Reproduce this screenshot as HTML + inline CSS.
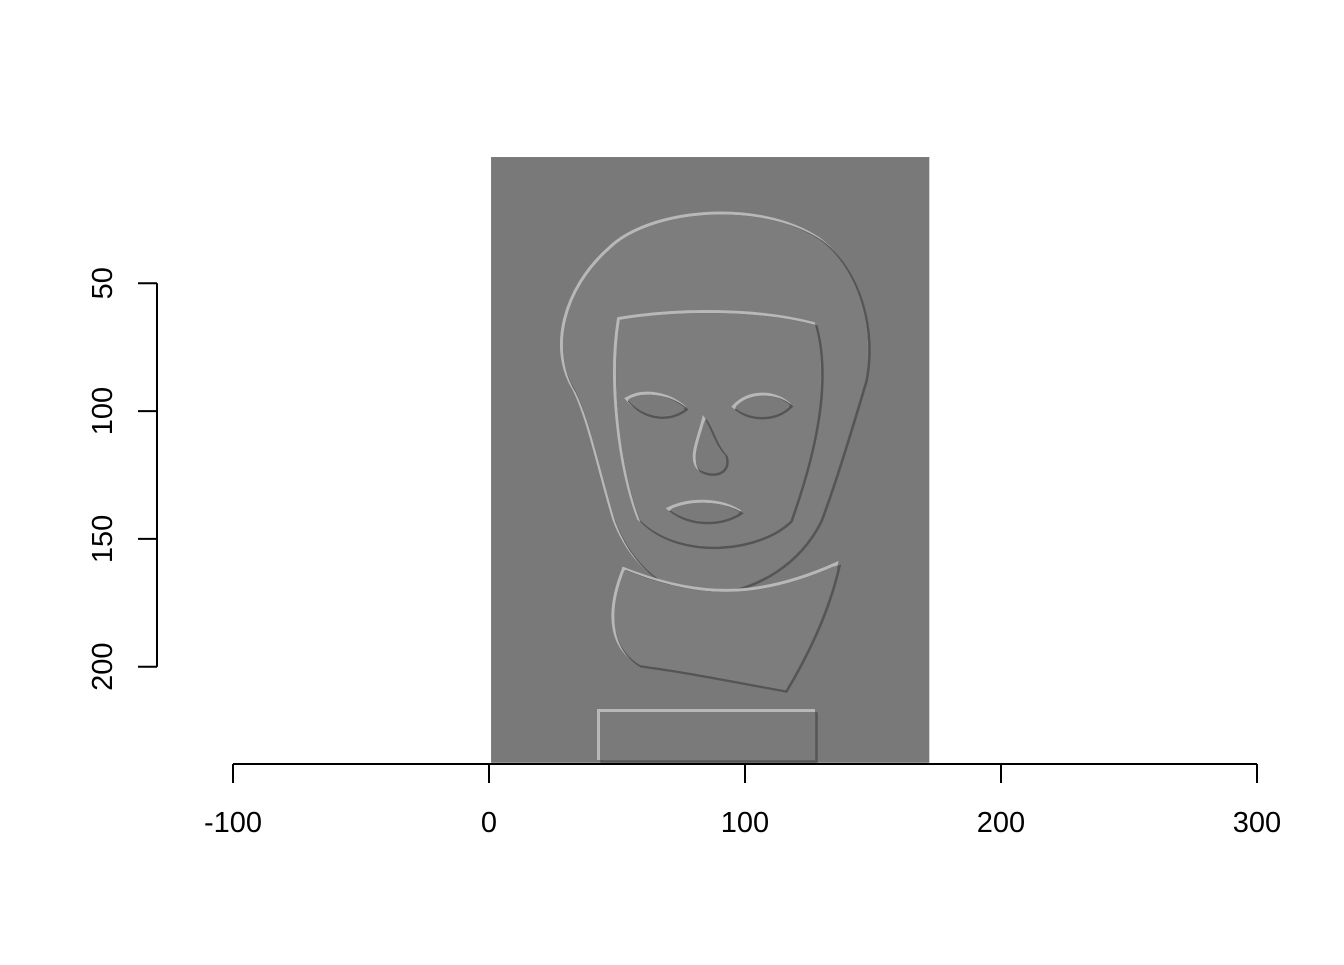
<!DOCTYPE html>
<html><head><meta charset="utf-8"><style>
body{margin:0;background:#fff}
svg text{font-family:"Liberation Sans",sans-serif;font-size:29px;fill:#000}
</style></head><body>
<svg id="chart" width="1344" height="960" viewBox="0 0 1344 960">
<g id="img"></g>
<g id="axes"></g>
</svg>
<script>
const xTicks=[-100,0,100,200,300];
const yTicks=[50,100,150,200];
const imgXRange=[0.8,172];
const imgYRange=[0.6,237.6];
const xMin=-100,xMax=300,yMin=0,yMax=237.6;
const X=v=>233+(v-xMin)*(1257-233)/(xMax-xMin);
const Y=v=>155.5+(v-yMin)*2.556;
const NS='http://www.w3.org/2000/svg';
function mk(t,a,p){const e=document.createElementNS(NS,t);for(const k in a)e.setAttribute(k,a[k]);p.appendChild(e);return e;}
const img=document.getElementById('img'),ax=document.getElementById('axes');
const r=mk('rect',{x:X(imgXRange[0]),y:Y(imgYRange[0]),width:X(imgXRange[1])-X(imgXRange[0]),height:Y(imgYRange[1])-Y(imgYRange[0]),fill:'#797979'},img);


const shapes=[
 'M610,250 C650,210 760,200 820,240 C860,270 875,330 865,380 C850,430 835,480 820,520 C800,560 760,590 700,595 C660,590 630,560 615,520 C600,470 590,420 575,390 C550,350 565,290 610,250 Z',
 'M625,570 C700,600 760,600 838,565 C830,600 815,640 785,690 C730,680 680,670 640,665 C615,650 605,620 625,570 Z',
 'M620,320 C680,310 760,310 815,325 C830,380 815,450 790,520 C760,550 680,560 640,520 C620,470 610,380 620,320 Z',
 'M628,400 C645,390 670,395 685,408 C670,420 645,420 628,400 Z',
 'M735,408 C750,392 775,392 790,405 C775,420 750,420 735,408 Z',
 'M705,420 C700,440 690,460 700,470 C715,478 730,470 725,455 C715,445 712,430 705,420 Z',
 'M670,510 C690,500 720,500 740,512 C720,525 690,525 670,510 Z',
 'M600,712 L815,712 L815,760 L600,760 Z'
];
shapes.forEach((d,i)=>{
 const g=mk('g',{},img);
 
 
 mk('path',{d:d,fill:'#7b7b7b',stroke:'#b8b8b8','stroke-width':3,transform:'translate(-1.5,-1.5)'},g);
 mk('path',{d:d,fill:'none',stroke:'#555','stroke-width':2.5,transform:'translate(1.5,1.5)'},g);
 mk('path',{d:d,fill:i<3?'#7d7d7d':'#7a7a7a',stroke:'none'},g);
});
const xl=mk('line',{x1:X(xTicks[0]),x2:X(xTicks[xTicks.length-1]),y1:764,y2:764,stroke:'#000','stroke-width':2},ax);


xTicks.forEach(v=>{
 const t=mk('line',{x1:X(v),x2:X(v),y1:764,y2:783,stroke:'#000','stroke-width':2},ax);
 
 
 const l=mk('text',{x:X(v),y:832,'text-anchor':'middle'},ax);l.textContent=v;
 
 
});
const yl=mk('line',{x1:157,x2:157,y1:Y(yTicks[0]),y2:Y(yTicks[yTicks.length-1]),stroke:'#000','stroke-width':2},ax);


yTicks.forEach(v=>{
 const t=mk('line',{x1:138,x2:157,y1:Y(v),y2:Y(v),stroke:'#000','stroke-width':2},ax);
 
 
 const l=mk('text',{x:0,y:0,'text-anchor':'middle',transform:'translate(112,'+Y(v)+') rotate(-90)'},ax);l.textContent=v;
 
 
});
</script>
</body></html>
